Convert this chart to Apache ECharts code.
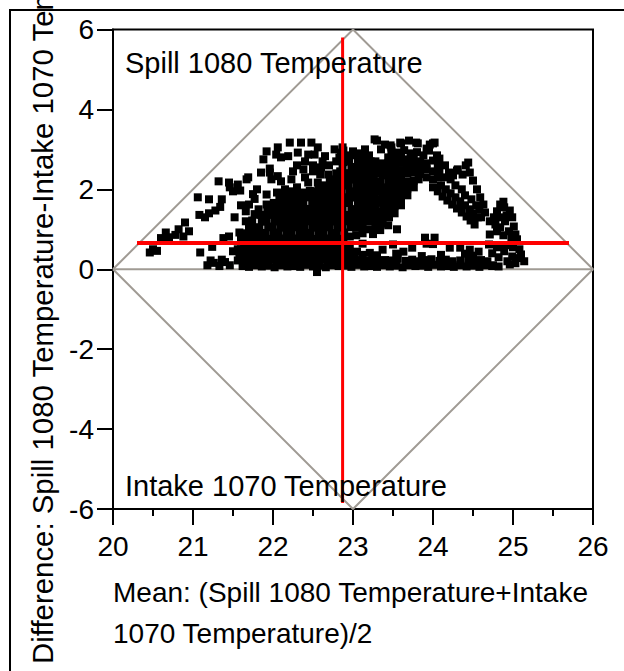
<!DOCTYPE html>
<html>
<head>
<meta charset="utf-8">
<script src="https://cdn.jsdelivr.net/npm/echarts@6/dist/echarts.min.js"></script>
<style>html,body{margin:0;padding:0;background:#fff}#c{width:624px;height:671px}</style>
</head>
<body>
<div id="c"></div>
<script>
// ---- data ----
const xTicks = [20, 21, 22, 23, 24, 25, 26];
const yTicks = [-6, -4, -2, 0, 2, 4, 6];
const xTitle1 = 'Mean: (Spill 1080 Temperature+Intake';
const xTitle2 = '1070 Temperature)/2';
const yTitle = 'Difference: Spill 1080 Temperature-Intake 1070 Temperature';
const upperLabel = 'Spill 1080 Temperature';
const lowerLabel = 'Intake 1070 Temperature';

const diamondPts = [[20,0],[23,6],[26,0],[23,-6],[20,0]];
const zeroLinePts = [[20,0],[26,0]];
const meanDiffLine = [[20.3,0.66],[25.7,0.66]];
const meanXLine = [[22.87,-5.85],[22.87,5.8]];

const leftPts = [[20.46,0.42],[20.5,0.5],[20.55,0.46],[20.6,0.78],[20.66,0.92],[20.7,0.8],[20.78,0.86],[20.82,1.0],[20.88,0.82],[20.9,1.17],[20.95,0.95],[21.09,0.42],[21.06,1.8],[21.2,1.75],[21.08,1.36],[21.15,1.3],[21.2,1.4],[21.28,1.47],[21.32,2.2],[21.45,2.17],[21.36,1.75],[21.5,1.95],[21.34,1.56],[21.52,1.3],[21.38,0.78],[21.45,0.82],[21.24,0.56],[21.18,0.1],[21.26,0.16],[21.33,0.08],[21.4,0.18],[21.46,0.1],[21.5,0.45],[21.56,0.5],[21.22,0.22],[21.36,0.24]];

const bandPts = [[21.62,0.08],[21.7,0.06],[21.78,0.1],[21.86,0.07],[21.94,0.09],[22.02,0.05],[22.1,0.1],[22.18,0.07],[22.26,0.08],[22.34,0.06],[22.42,0.11],[22.5,0.07],[22.58,0.09],[22.66,0.05],[22.74,0.1],[22.82,0.08],[22.9,0.09],[22.98,0.06],[23.06,0.11],[23.14,0.07],[23.22,0.08],[23.3,0.06],[23.38,0.1],[23.46,0.07],[23.54,0.09],[23.62,0.05],[23.7,0.1],[23.78,0.08],[23.86,0.09],[23.94,0.06],[24.02,0.11],[24.1,0.07],[24.18,0.08],[24.26,0.06],[24.34,0.1],[24.42,0.07],[24.5,0.09],[24.58,0.06],[24.66,0.1],[24.74,0.08],[24.82,0.07],[22.55,-0.07],
[21.56,0.22],[21.64,0.24],[21.72,0.2],[21.8,0.23],[21.88,0.21],[21.96,0.25],[22.04,0.2],[22.12,0.23],[22.2,0.22],[22.28,0.24],[22.36,0.2],[22.44,0.23],[22.52,0.21],[22.6,0.25],[22.68,0.2],[22.76,0.23],[22.84,0.22],[22.92,0.24],[23.0,0.2],[23.08,0.23],[23.16,0.21],[23.24,0.25],[23.32,0.2],[23.4,0.23],[23.48,0.22],[23.56,0.26],[23.66,0.21],[23.74,0.24],[23.82,0.2],[23.9,0.23],[23.98,0.25],[24.08,0.21],[24.16,0.24],[24.24,0.2],[24.34,0.22],[24.44,0.25],[24.52,0.2],[24.6,0.23],[24.68,0.2],
[21.58,0.36],[21.66,0.38],[21.74,0.35],[21.82,0.39],[21.9,0.36],[21.98,0.38],[22.06,0.35],[22.14,0.37],[22.22,0.39],[22.3,0.36],[22.38,0.38],[22.46,0.35],[22.54,0.37],[22.62,0.39],[22.7,0.36],[22.78,0.38],[22.86,0.35],[22.94,0.37],[23.02,0.34],[23.12,0.36],[23.3,0.35],[23.54,0.39],[23.86,0.33],[24.1,0.36],[24.4,0.39],[24.5,0.34],
[21.6,0.5],[21.68,0.52],[21.76,0.49],[21.84,0.53],[21.92,0.5],[22.0,0.52],[22.08,0.48],[22.16,0.51],[22.24,0.53],[22.32,0.5],[22.4,0.52],[22.48,0.49],[22.56,0.51],[22.64,0.53],[22.72,0.5],[22.8,0.52],[22.88,0.49],[22.96,0.51],[23.05,0.44],[23.21,0.41],[23.37,0.49],[23.63,0.44],[23.74,0.54],[24.21,0.54],[24.34,0.54],[24.46,0.49],[24.57,0.44],
[21.64,0.63],[21.72,0.61],[21.8,0.64],[21.88,0.62],[21.96,0.6],[22.04,0.63],[22.12,0.61],[22.2,0.64],[22.28,0.62],[22.36,0.6],[22.44,0.63],[22.52,0.61],[22.6,0.64],[22.68,0.62],[22.76,0.6],[22.84,0.63],[22.92,0.61],[23.12,0.64],[23.5,0.62],[23.92,0.64],[24.0,0.63],[23.9,0.79],[24.02,0.79],[23.55,1.0],[23.04,0.85],[23.25,0.88]];

const bodyPts = [[21.6,0.76],[21.58,0.92],
[21.68,0.74],[21.67,0.9],[21.7,1.06],[21.66,1.2],
[21.76,0.77],[21.75,0.92],[21.78,1.05],[21.74,1.22],[21.77,1.38],
[21.84,0.73],[21.85,0.9],[21.83,1.04],[21.86,1.19],[21.84,1.36],[21.82,1.5],
[21.92,0.76],[21.91,0.91],[21.94,1.07],[21.92,1.21],[21.9,1.35],[21.93,1.52],[21.92,1.62],
[22.0,0.74],[22.01,0.9],[21.99,1.05],[22.02,1.2],[22.0,1.36],[21.98,1.5],[22.01,1.66],
[22.08,0.77],[22.07,0.92],[22.09,1.04],[22.08,1.2],[22.1,1.34],[22.07,1.5],[22.09,1.64],[22.08,1.76],
[22.16,0.75],[22.17,0.9],[22.15,1.06],[22.16,1.21],[22.18,1.37],[22.15,1.51],[22.17,1.66],[22.16,1.8],
[22.24,0.74],[22.23,0.9],[22.25,1.05],[22.24,1.19],[22.26,1.36],[22.23,1.52],[22.25,1.66],[22.24,1.83],
[22.32,0.77],[22.33,0.91],[22.31,1.06],[22.32,1.22],[22.34,1.35],[22.31,1.5],[22.33,1.65],[22.32,1.8],[22.3,1.88],
[22.4,0.75],[22.41,0.9],[22.39,1.05],[22.4,1.2],[22.42,1.35],[22.4,1.51],[22.38,1.66],[22.41,1.8],[22.4,1.92],
[22.48,0.74],[22.47,0.91],[22.49,1.06],[22.48,1.21],[22.5,1.34],[22.47,1.5],[22.49,1.65],[22.48,1.81],[22.46,1.96],
[22.56,0.76],[22.57,0.9],[22.55,1.04],[22.56,1.2],[22.58,1.36],[22.55,1.52],[22.57,1.66],[22.56,1.8],[22.55,1.95],[22.57,2.04],
[22.64,0.75],[22.63,0.91],[22.65,1.05],[22.64,1.22],[22.66,1.35],[22.63,1.5],[22.65,1.65],[22.64,1.8],[22.62,1.96],[22.65,2.1],
[22.72,0.77],[22.73,0.9],[22.71,1.06],[22.72,1.2],[22.74,1.36],[22.71,1.51],[22.73,1.66],[22.72,1.82],[22.7,1.95],[22.73,2.1],[22.72,2.22],
[22.8,0.74],[22.79,0.9],[22.81,1.05],[22.8,1.2],[22.82,1.35],[22.79,1.5],[22.81,1.64],[22.8,1.8],[22.78,1.95],[22.81,2.1],[22.8,2.25],[22.79,2.4],
[22.88,0.76],[22.89,0.92],[22.87,1.05],[22.88,1.21],[22.9,1.36],[22.87,1.52],[22.89,1.66],[22.88,1.8],[22.86,1.96],[22.89,2.1],[22.88,2.24],[22.9,2.4],[22.87,2.55],[22.88,2.68],
[22.96,0.82],[22.97,1.05],[22.95,1.2],[22.96,1.35],[22.98,1.5],[22.95,1.66],[22.97,1.8],[22.96,1.95],[22.94,2.1],[22.97,2.25],[22.96,2.4],[22.98,2.55],[22.95,2.7],[22.96,2.85],
[23.04,1.04],[23.05,1.2],[23.03,1.36],[23.04,1.5],[23.06,1.65],[23.03,1.8],[23.05,1.96],[23.04,2.1],[23.02,2.25],[23.05,2.4],[23.04,2.56],[23.06,2.7],[23.03,2.86],
[23.12,0.9],[23.12,1.05],[23.13,1.21],[23.11,1.35],[23.12,1.52],[23.14,1.66],[23.11,1.8],[23.13,1.95],[23.12,2.1],[23.1,2.25],[23.13,2.4],[23.12,2.55],[23.14,2.7],[23.11,2.84],
[23.2,1.0],[23.21,1.2],[23.19,1.35],[23.2,1.5],[23.22,1.65],[23.19,1.8],[23.21,1.95],[23.2,2.1],[23.18,2.26],[23.21,2.4],[23.2,2.55],[23.22,2.7],
[23.28,1.04],[23.29,1.22],[23.27,1.36],[23.28,1.5],[23.3,1.66],[23.27,1.8],[23.29,1.94],[23.28,2.1],[23.26,2.25],[23.29,2.4],[23.28,2.56],
[23.34,0.98],[23.37,1.14],[23.35,1.3],[23.36,1.45],[23.38,1.6],[23.35,1.75],[23.37,1.9],[23.36,2.05],[23.34,2.2],[23.37,2.35],[23.36,2.5],
[23.44,1.1],[23.45,1.3],[23.44,1.48],[23.45,1.65],[23.44,1.82],[23.45,2.0],[23.44,2.18],[23.46,2.35],[23.52,1.4],[23.52,1.58],[23.53,1.75],[23.52,1.92],[23.52,2.1],[23.53,2.28],[23.6,1.6],[23.6,1.78],[23.61,1.95],[23.6,2.12],[23.6,2.3],[23.68,1.85],[23.68,2.02],[23.69,2.2],[23.76,2.05],[23.76,2.22],[23.82,2.25]];

const humpPts = [[22.21,3.17],[22.35,3.17],[22.48,3.17],[22.56,3.05],[22.06,3.05],[22.04,2.87],[22.19,2.83],[22.31,2.92],[22.44,2.87],[22.52,2.87],[22.65,2.83],[22.77,3.0],[22.85,2.92],[22.91,2.8],[22.79,2.7],[21.88,2.75],[21.92,2.95],[22.1,2.8],[22.6,2.55],[22.83,2.8],[22.87,3.05],[22.7,2.6],
[21.85,2.42],[21.96,2.42],[21.98,2.25],[22.06,2.33],[22.1,2.2],[22.23,2.25],[22.4,2.3],[22.44,2.17],[22.56,2.17],[22.69,2.37],[22.75,2.25],[22.81,2.37],[21.96,2.52],[22.59,2.37],[22.71,2.2],[22.84,2.45],[22.5,2.45],[22.3,2.05],[22.15,2.0],
[21.69,2.3],[21.46,2.05],[21.56,2.12],[21.59,1.97],[21.67,2.25],[21.8,2.0],[21.92,1.87],[22.05,1.92],[21.75,1.88],[21.77,1.76],[22.15,1.9],[22.2,1.95],[21.6,1.6],[21.66,1.45],[21.7,1.62],
[22.3,2.6],[22.4,2.7],[22.5,2.6],[22.38,2.5],[22.62,2.7],[22.25,2.45]];

const ridgePts = [[23.3,3.22],[23.47,3.1],[23.6,3.15],[23.7,3.22],[23.81,3.15],[24.0,3.15],[23.95,2.97],[22.88,2.97],[23.05,2.9],[23.27,3.25],[23.59,3.17],[23.79,3.17],[23.96,3.12],[24.02,3.17],[23.35,3.0],[23.48,3.05],[23.0,2.95],
[23.44,2.5],[23.52,2.45],[23.6,2.48],[23.68,2.4],[23.76,2.42],[23.84,2.38],[23.92,2.3],[24.0,2.25],
[23.44,2.65],[23.52,2.62],[23.6,2.66],[23.68,2.58],[23.76,2.6],[23.84,2.55],[23.92,2.5],[24.0,2.45],[24.06,2.6],
[23.44,2.8],[23.52,2.78],[23.6,2.82],[23.68,2.75],[23.76,2.78],[23.84,2.7],[23.92,2.65],[24.0,2.72],[24.05,2.85],
[23.48,2.95],[23.56,2.92],[23.64,2.98],[23.72,2.9],[23.8,2.93],[23.88,2.85],[23.92,3.02],
[23.2,2.85],[23.28,2.7],[23.36,2.65],[23.15,3.0],[23.4,3.12],[24.06,2.3],[24.08,2.45]];

const arcPts = [[24.08,2.77],[24.15,2.6],[24.2,2.42],[24.3,2.47],[24.41,2.6],[24.44,2.67],[24.46,2.42],[24.5,2.22],[24.55,2.0],[24.59,1.8],[24.63,1.62],[24.65,1.42],[24.71,1.2],[24.37,2.37],[24.31,2.5],
[24.0,2.05],[24.06,1.95],[24.12,1.82],[24.18,1.72],[24.24,1.62],[24.3,1.52],[24.36,1.42],[24.42,1.32],[24.47,1.22],[24.52,1.12],
[24.1,2.1],[24.16,2.0],[24.14,2.3],[24.22,2.25],[24.22,1.9],[24.28,1.8],[24.28,2.1],[24.34,1.7],[24.4,1.6],[24.46,1.5],[24.5,1.4],[24.56,1.3],[24.4,1.85],[24.48,1.75],[24.54,1.6],[24.58,1.5],[24.36,2.0],[24.6,1.3],[24.25,2.35]];

const rightPts = [[24.84,1.62],[24.89,1.55],[24.96,1.47],[24.99,1.3],[24.78,1.12],[24.84,1.05],[24.9,1.2],[25.01,1.07],[25.03,0.87],[25.05,0.75],[24.71,0.87],[24.88,1.69],[24.8,1.45],[24.76,1.3],[24.92,1.35],[24.85,1.3],[24.95,0.95],[24.88,0.85],[24.8,0.95],[24.98,0.8],
[24.89,0.45],[24.99,0.32],[25.1,0.37],[25.14,0.2],[25.03,0.15],[24.93,0.2],[24.75,0.1],[24.82,0.3],[24.9,0.6],[25.0,0.55],[25.08,0.5],[24.8,0.55],[24.96,0.12],[25.06,0.28],[24.7,0.62],[24.74,0.4]];

// ---- chart ----
const FONT = "'Liberation Sans', Arial, sans-serif";
const chart = echarts.init(document.getElementById('c'), null, {renderer: 'svg', width: 624, height: 671});
const allPts = [].concat(leftPts, bandPts, bodyPts, humpPts, ridgePts, arcPts, rightPts);
const grey = '#a09b94';
const lineSeries = (data, color, width, z) => ({
  type: 'line', data, showSymbol: false, symbol: 'none', silent: true, z,
  lineStyle: {color, width, opacity: 1}, animation: false
});
chart.setOption({
  animation: false,
  grid: {left: 113, right: 31, top: 29.5, bottom: 162, show: true, borderColor: '#000', borderWidth: 2, outerBoundsMode: 'none', containLabel: false},
  xAxis: {
    type: 'value', min: xTicks[0], max: xTicks[xTicks.length-1], interval: 1,
    axisLine: {show: true, onZero: false, lineStyle: {color: '#000', width: 2}},
    axisTick: {show: true, inside: false, length: 16, lineStyle: {color: '#000', width: 2}},
    minorTick: {show: true, splitNumber: 2, length: 7, lineStyle: {color: '#000', width: 2}},
    splitLine: {show: false},
    axisLabel: {fontSize: 28, color: '#000', fontFamily: FONT, margin: 23}
  },
  yAxis: {
    type: 'value', min: yTicks[0], max: yTicks[yTicks.length-1], interval: 2,
    axisLine: {show: true, onZero: false, lineStyle: {color: '#000', width: 2}},
    axisTick: {show: true, inside: false, length: 16, lineStyle: {color: '#000', width: 2}},
    splitLine: {show: false},
    axisLabel: {fontSize: 28, color: '#000', fontFamily: FONT, margin: 19}
  },
  series: [
    lineSeries(diamondPts, grey, 2, 1),
    lineSeries(zeroLinePts, grey, 2, 1),
    {type: 'scatter', data: allPts, symbol: 'rect', symbolSize: 8, itemStyle: {color: '#000', opacity: 1}, z: 2, silent: true, animation: false},
    lineSeries(meanDiffLine, '#ff0000', 4, 3),
    lineSeries(meanXLine, '#ff0000', 3, 3)
  ],
  graphic: [
    {type: 'rect', shape: {x: 10, y: 10, width: 640, height: 720}, style: {fill: 'none', stroke: '#000', lineWidth: 2}, z: 0},
    {type: 'text', x: 125, y: 77, style: {text: upperLabel, font: '29px ' + FONT, fill: '#000', verticalAlign: 'bottom'}, z: 5},
    {type: 'text', x: 125, y: 500, style: {text: lowerLabel, font: '29px ' + FONT, fill: '#000', verticalAlign: 'bottom'}, z: 5},
    {type: 'text', x: 113, y: 606, style: {text: xTitle1, font: '28px ' + FONT, fill: '#000', verticalAlign: 'bottom'}, z: 5},
    {type: 'text', x: 113, y: 647, style: {text: xTitle2, font: '28px ' + FONT, fill: '#000', verticalAlign: 'bottom'}, z: 5},
    {type: 'text', x: 57, y: 664, rotation: Math.PI / 2, style: {text: yTitle, font: '29.4px ' + FONT, fill: '#000', verticalAlign: 'bottom'}, z: 5}
  ]
});
</script>
</body>
</html>
